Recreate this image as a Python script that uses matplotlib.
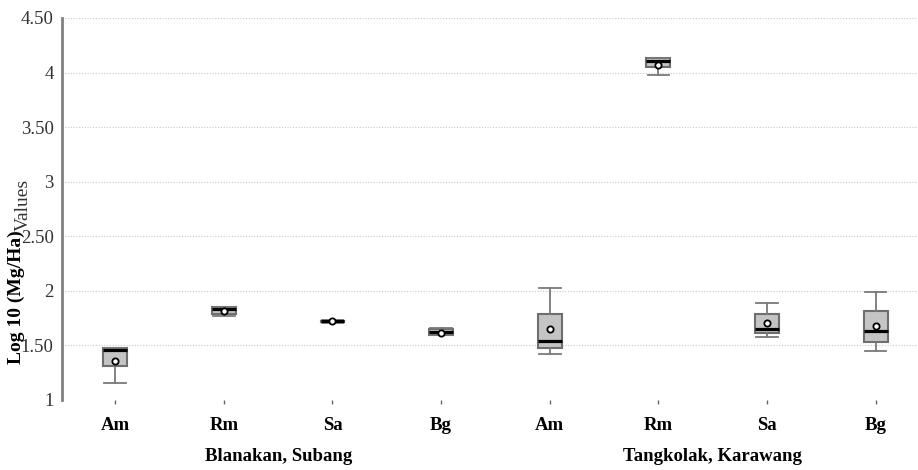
import numpy as np
import matplotlib.pyplot as plt

# species per site, two sites
species = ['Am', 'Rm', 'Sa', 'Bg', 'Am', 'Rm', 'Sa', 'Bg']
sites = ['Blanakan, Subang', 'Tangkolak, Karawang']

# box summary (log10 Mg/Ha)
whislo = [1.16, 1.77, 1.71, 1.60, 1.42, 3.98, 1.58, 1.45]
q1 = [1.31, 1.79, 1.715, 1.60, 1.48, 4.05, 1.61, 1.53]
med = [1.46, 1.83, 1.72, 1.62, 1.54, 4.11, 1.655, 1.63]
q3 = [1.48, 1.85, 1.725, 1.655, 1.79, 4.13, 1.79, 1.82]
whishi = [1.48, 1.85, 1.73, 1.66, 2.03, 4.13, 1.89, 1.99]
means = [1.36, 1.82, 1.72, 1.61, 1.655, 4.07, 1.71, 1.68]

yticks = [1, 1.5, 2, 2.5, 3, 3.5, 4, 4.5]
ytick_labels = ['1', '1.50', '2', '2.50', '3', '3.50', '4', '4.50']

plt.rcParams['font.family'] = 'Liberation Serif'

stats = []
for i in range(len(species)):
    stats.append(dict(whislo=whislo[i], q1=q1[i], med=med[i], q3=q3[i],
                      whishi=whishi[i], mean=means[i], fliers=[], label=species[i]))

fig = plt.figure(figsize=(9.18, 4.70), dpi=100)
ax = fig.add_axes([62 / 918, 1 - 400 / 470, 1 - 62 / 918, (400 - 18) / 470])

pos = np.arange(len(species))
ax.bxp(stats, positions=pos, widths=0.22, showmeans=True, patch_artist=True,
       boxprops=dict(facecolor='#c4c4c4', edgecolor='#6e6e6e', linewidth=1.5),
       medianprops=dict(color='black', linewidth=2.3),
       whiskerprops=dict(color='#7a7a7a', linewidth=1.3),
       capprops=dict(color='#7a7a7a', linewidth=1.3),
       meanprops=dict(marker='o', markerfacecolor='white', markeredgecolor='black',
                      markeredgewidth=1.3, markersize=4.5),
       capwidths=0.2, zorder=3)

ax.set_xlim(-0.49, 7.39)
ax.set_ylim(1, 4.5)
ax.set_yticks(yticks)
ax.set_yticklabels(ytick_labels, fontsize=13.5, color='#333333')
ax.set_xticks(pos)
ax.set_xticklabels(species, fontsize=13.5, fontweight='bold')

ax.grid(axis='y', linestyle=(0, (1, 1.5)), color='#c8c8c8', linewidth=0.8, zorder=0)
for s in ['top', 'right', 'bottom']:
    ax.spines[s].set_visible(False)
ax.spines['left'].set_color('#808080')
ax.spines['left'].set_linewidth(2)
ax.tick_params(axis='y', length=0, pad=6)
ax.tick_params(axis='x', length=3, width=1, color='#666666', pad=9)

# site labels under each group of four
for k, site in enumerate(sites):
    xc = 1.5 + 4 * k
    ax.text(xc, -0.148, site, transform=ax.get_xaxis_transform(), ha='center',
            va='center', fontsize=13.5, fontweight='bold')

# y axis title, bold unit part plus plain word
fig.text(16 / 918, 1 - 364 / 470, 'Log 10 (Mg/Ha)', rotation=90, ha='center',
         va='bottom', fontsize=14, fontweight='bold')
fig.text(23 / 918, 1 - 231 / 470, 'Values', rotation=90, ha='center',
         va='bottom', fontsize=14, color='#333333')

fig.savefig('out.png', dpi=100)
